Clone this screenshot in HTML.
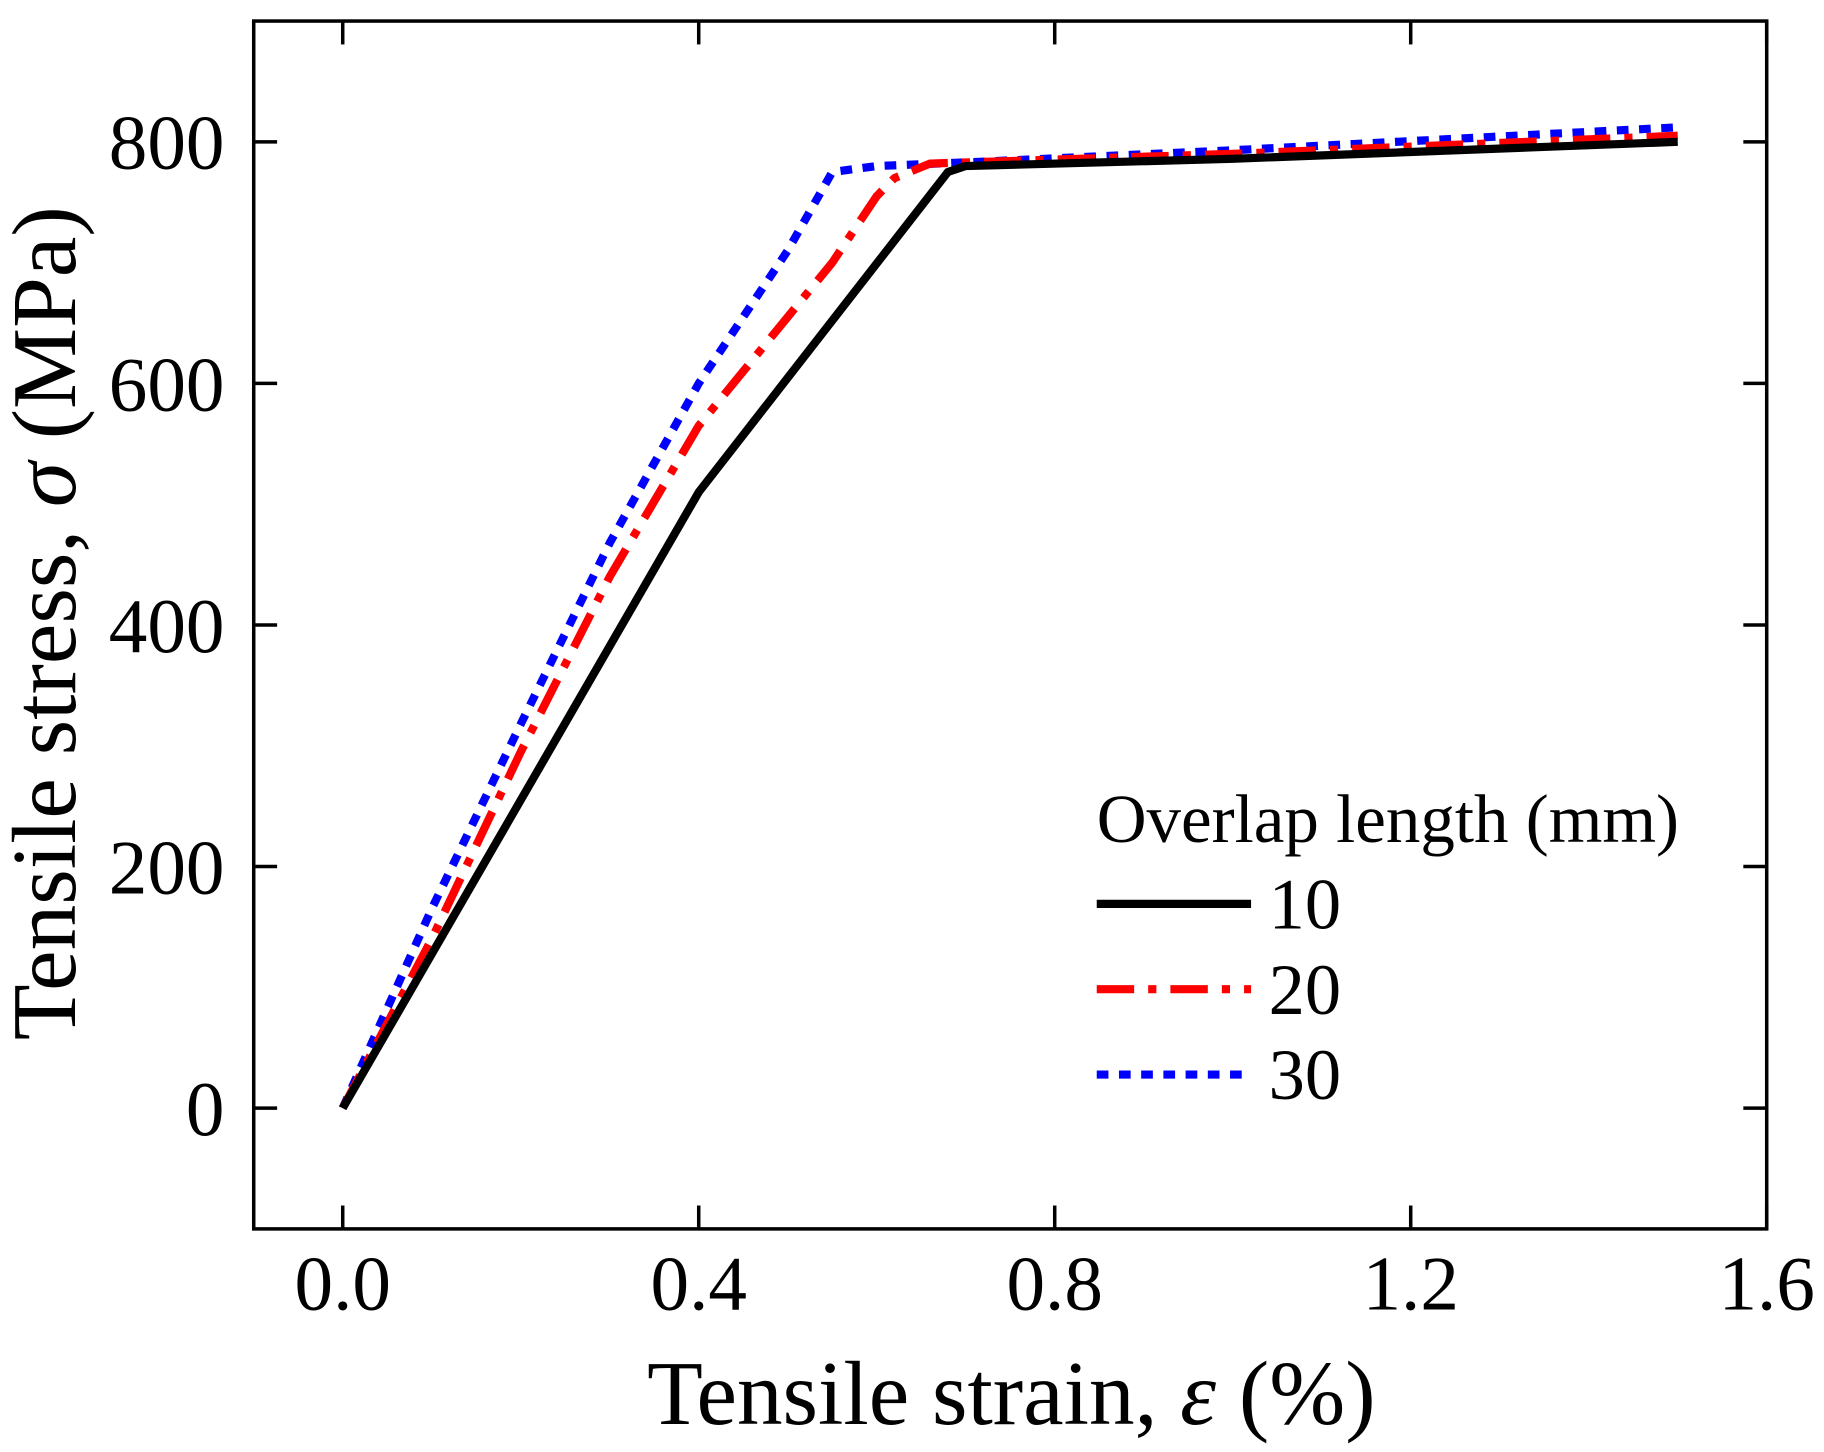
<!DOCTYPE html>
<html><head><meta charset="utf-8"><style>
html,body{margin:0;padding:0;background:#fff;}
svg{display:block;}
text{font-family:"Liberation Serif",serif;fill:#000;}
</style></head><body>
<svg id="chart" width="1824" height="1452" viewBox="0 0 1560 1241.8" preserveAspectRatio="none" xmlns="http://www.w3.org/2000/svg">
<g id="plot"></g>
</svg>
<script>
const xTicks = [0.0, 0.4, 0.8, 1.2, 1.6];
const xTickLabels = ["0.0", "0.4", "0.8", "1.2", "1.6"];
const yTicks = [0, 200, 400, 600, 800];
const yTickLabels = ["0", "200", "400", "600", "800"];
const seriesNames = ["10", "20", "30"];
const strain10 = [0, 0.4, 0.68, 0.7, 1.0, 1.5];
const stress10 = [0, 510, 775, 780, 786, 800];
const strain20 = [0, 0.1, 0.2, 0.3, 0.4, 0.5, 0.55, 0.6, 0.62, 0.66, 1.0, 1.5];
const stress20 = [0, 140, 295, 440, 565, 655, 700, 755, 770, 782, 790, 805];
const strain30 = [0, 0.1, 0.2, 0.3, 0.4, 0.5, 0.55, 0.6, 0.7, 1.0, 1.5];
const stress30 = [0, 165, 318, 468, 600, 710, 775, 780, 783, 793, 812];

const NS = "http://www.w3.org/2000/svg";
const L = 217, R = 1511, T = 18, B = 1051;
const xMin = -0.1, xMax = 1.6, yMin = -100, yMax = 900;
function sx(v){ return L + (v - xMin) / (xMax - xMin) * (R - L); }
function sy(v){ return B - (v - yMin) / (yMax - yMin) * (B - T); }
const g = document.getElementById('plot');
function mk(tag, attrs, parent){
  const e = document.createElementNS(NS, tag);
  for (const k in attrs) e.setAttribute(k, attrs[k]);
  (parent || g).appendChild(e);
  return e;
}
const frame = mk('rect', {x:L, y:T, width:R-L, height:B-T, fill:'none', stroke:'#000', 'stroke-width':3});


const TL = 20;
xTicks.forEach((v, i) => {
  const x = sx(v);
  const t1 = mk('line', {x1:x, y1:B, x2:x, y2:B-TL, stroke:'#000', 'stroke-width':3});
  
  
  const t2 = mk('line', {x1:x, y1:T, x2:x, y2:T+TL, stroke:'#000', 'stroke-width':3});
  
  
  const lb = mk('text', {x:x, y:1120, 'font-size':66, 'text-anchor':'middle'});
  lb.textContent = xTickLabels[i];
  
  
});
yTicks.forEach((v, i) => {
  const y = sy(v);
  const t1 = mk('line', {x1:L, y1:y, x2:L+TL, y2:y, stroke:'#000', 'stroke-width':3});
  
  
  const t2 = mk('line', {x1:R, y1:y, x2:R-TL, y2:y, stroke:'#000', 'stroke-width':3});
  
  
  const lb = mk('text', {x:192, y:y+23, 'font-size':66, 'text-anchor':'end'});
  lb.textContent = yTickLabels[i];
  
  
});
const styles = [
  {stroke:'#000', width:7, dash:''},
  {stroke:'#f00', width:7, dash:'32 12 7 12'},
  {stroke:'#00f', width:7, dash:'10 9'}
];
const xs = [strain10, strain20, strain30], ys = [stress10, stress20, stress30];
[2,1,0].forEach(i => {
  const d = xs[i].map((v, j) => (j ? 'L' : 'M') + sx(v).toFixed(1) + ' ' + sy(ys[i][j]).toFixed(1)).join(' ');
  const p = mk('path', {d:d, fill:'none', stroke:styles[i].stroke, 'stroke-width':styles[i].width, 'stroke-dasharray':styles[i].dash, 'stroke-linejoin':'round'});
  
  
});
const lt = mk('text', {x:938, y:720, 'font-size':59});
lt.textContent = 'Overlap length (mm)';


seriesNames.forEach((n, i) => {
  const y = 773 + i * 73;
  const ln = mk('line', {x1:938, y1:y, x2:1070, y2:y, stroke:styles[i].stroke, 'stroke-width':styles[i].width, 'stroke-dasharray':styles[i].dash});
  
  
  const tx = mk('text', {x:1085, y:y+21, 'font-size':62});
  tx.textContent = n;
  
  
});
const xt = mk('text', {x:865, y:1218, 'font-size':78, 'text-anchor':'middle'});
xt.innerHTML = 'Tensile strain, <tspan font-style="italic">ε</tspan> (%)';


const yt = mk('text', {x:0, y:0, 'font-size':78, 'text-anchor':'middle', transform:'translate(64,533) rotate(-90)'});
yt.innerHTML = 'Tensile stress, <tspan font-style="italic">σ</tspan> (MPa)';


</script>
</body></html>
